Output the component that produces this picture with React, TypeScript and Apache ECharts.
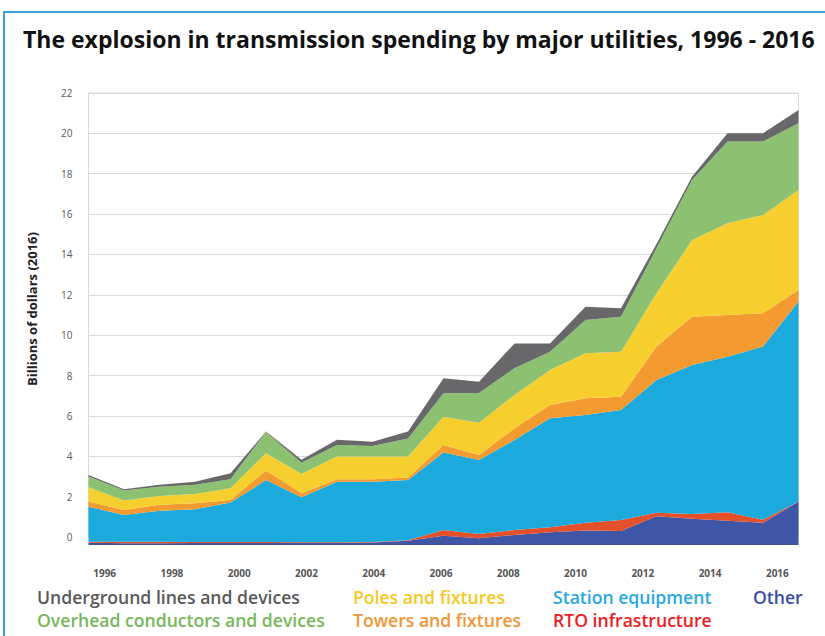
import React, { useEffect, useRef } from "react";
import * as echarts from "echarts";

const years = [
  "1996", "1997", "1998", "1999", "2000", "2001", "2002", "2003", "2004", "2005", "2006",
  "2007", "2008", "2009", "2010", "2011", "2012", "2013", "2014", "2015", "2016",
];
const yearLabels = ["1996", "1998", "2000", "2002", "2004", "2006", "2008", "2010", "2012", "2014", "2016"];

// Billions of dollars (2016), stacked from bottom to top
const other = [0.11, 0.09, 0.09, 0.1, 0.1, 0.1, 0.1, 0.1, 0.12, 0.21, 0.46, 0.33, 0.5, 0.63, 0.72, 0.69, 1.42, 1.3, 1.2, 1.1, 2.15];
const rto = [0.05, 0.07, 0.07, 0.05, 0.05, 0.05, 0.04, 0.04, 0.03, 0.02, 0.28, 0.22, 0.24, 0.25, 0.38, 0.55, 0.18, 0.23, 0.42, 0.15, 0.0];
const station = [1.74, 1.33, 1.54, 1.62, 1.95, 3.07, 2.23, 3.0, 2.99, 2.99, 3.84, 3.66, 4.46, 5.4, 5.34, 5.45, 6.58, 7.39, 7.71, 8.58, 9.91];
const towers = [0.25, 0.25, 0.29, 0.3, 0.13, 0.47, 0.2, 0.12, 0.12, 0.12, 0.38, 0.25, 0.58, 0.66, 0.83, 0.66, 1.65, 2.39, 2.07, 1.65, 0.58];
const poles = [0.71, 0.46, 0.44, 0.46, 0.58, 0.86, 0.95, 1.12, 1.12, 1.04, 1.4, 1.6, 1.65, 1.73, 2.23, 2.23, 2.64, 3.8, 4.54, 4.87, 4.95];
const overhead = [0.53, 0.5, 0.46, 0.45, 0.45, 1.05, 0.56, 0.58, 0.52, 0.9, 1.16, 1.47, 1.33, 0.91, 1.65, 1.73, 2.23, 2.98, 4.05, 3.64, 3.31];
const underground = [0.08, 0.06, 0.09, 0.16, 0.29, 0.02, 0.14, 0.25, 0.22, 0.35, 0.74, 0.56, 1.23, 0.41, 0.66, 0.42, 0.22, 0.16, 0.41, 0.41, 0.66];

const seriesDefs = [
  { name: "Other", data: other, color: "#3f55a5", text: "#3b4ea0" },
  { name: "RTO infrastructure", data: rto, color: "#e4502a", text: "#ec1c24" },
  { name: "Station equipment", data: station, color: "#1ca9dc", text: "#29a8e0" },
  { name: "Towers and fixtures", data: towers, color: "#f39b30", text: "#f29533" },
  { name: "Poles and fixtures", data: poles, color: "#f6cf2e", text: "#f5c720" },
  { name: "Overhead conductors and devices", data: overhead, color: "#8bc171", text: "#77b75a" },
  { name: "Underground lines and devices", data: underground, color: "#68686a", text: "#595959" },
];

const legendPos: Record<string, [number, number]> = {
  "Underground lines and devices": [37, 588],
  "Poles and fixtures": [353, 588],
  "Station equipment": [553, 588],
  "Other": [753, 588],
  "Overhead conductors and devices": [37, 611],
  "Towers and fixtures": [353, 611],
  "RTO infrastructure": [553, 611],
};

const FONT = "'Open Sans', 'Noto Sans', sans-serif";

export default function App() {
  const ref = useRef<HTMLDivElement>(null);
  useEffect(() => {
    if (!ref.current) return;
    const chart = echarts.init(ref.current, null, { renderer: "svg" });
    chart.setOption({
      animation: false,
      backgroundColor: "#ffffff",
      title: {
        text: "The explosion in transmission spending by major utilities, 1996 - 2016",
        left: 18,
        top: 22,
        textStyle: { fontFamily: FONT, fontSize: 23, fontWeight: "bold", color: "#111111" },
      },
      grid: [
        { left: 88.5, top: 93, width: 710, height: 444, show: true, borderColor: "#d9d9d9", borderWidth: 1, backgroundColor: "transparent" },
        { left: 88.5, top: 101, width: 710, height: 444 },
        { left: 71, top: 101, width: 740, height: 444 },
      ],
      xAxis: [
        { gridIndex: 0, type: "value", min: 0, max: 1, show: false },
        { gridIndex: 1, type: "category", data: years, boundaryGap: false, show: false },
        {
          gridIndex: 2,
          type: "category",
          data: yearLabels,
          boundaryGap: true,
          axisLine: { show: false },
          axisTick: { show: false },
          splitLine: { show: false },
          axisLabel: { margin: 23, fontSize: 10, fontWeight: "bold", color: "#555555", fontFamily: FONT },
        },
      ],
      yAxis: [
        {
          gridIndex: 0,
          type: "value",
          min: 0,
          max: 22,
          interval: 2,
          axisLine: { show: false },
          axisTick: { show: false },
          splitLine: { lineStyle: { color: "#d9d9d9", width: 1 } },
          axisLabel: { margin: 16, fontSize: 10, color: "#595959", fontFamily: FONT },
        },
        { gridIndex: 1, type: "value", min: 0, max: 22, show: false, splitLine: { show: false } },
        { gridIndex: 2, type: "value", min: 0, max: 1, show: false, splitLine: { show: false } },
      ],
      legend: seriesDefs.map((s) => ({
        data: [s.name],
        left: legendPos[s.name][0],
        top: legendPos[s.name][1],
        padding: 0,
        icon: "none",
        itemWidth: 0,
        itemGap: 0,
        selectedMode: false,
        textStyle: { color: s.text, fontSize: 17.6, fontWeight: 600, fontFamily: FONT, padding: [0, 0, 0, -5] },
      })),
      graphic: [
        {
          type: "rect",
          shape: { x: 4, y: 12, width: 900, height: 700 },
          style: { fill: "none", stroke: "#3aa0dc", lineWidth: 2 },
          silent: true,
        },
        {
          type: "text",
          x: 32,
          y: 309,
          rotation: Math.PI / 2,
          style: {
            text: "Billions of dollars (2016)",
            fontSize: 13,
            fontWeight: "bold",
            fontFamily: FONT,
            fill: "#222222",
            align: "center",
            verticalAlign: "middle",
          },
        },
      ],
      series: seriesDefs.map((s) => ({
        name: s.name,
        type: "line",
        xAxisIndex: 1,
        yAxisIndex: 1,
        stack: "total",
        data: s.data,
        symbol: "none",
        color: s.color,
        lineStyle: { width: 0 },
        areaStyle: { color: s.color, opacity: 1 },
        emphasis: { disabled: true },
      })),
    });
    return () => chart.dispose();
  }, []);
  return <div ref={ref} style={{ position: "fixed", left: 0, top: 0, width: 825, height: 636 }} />;
}
